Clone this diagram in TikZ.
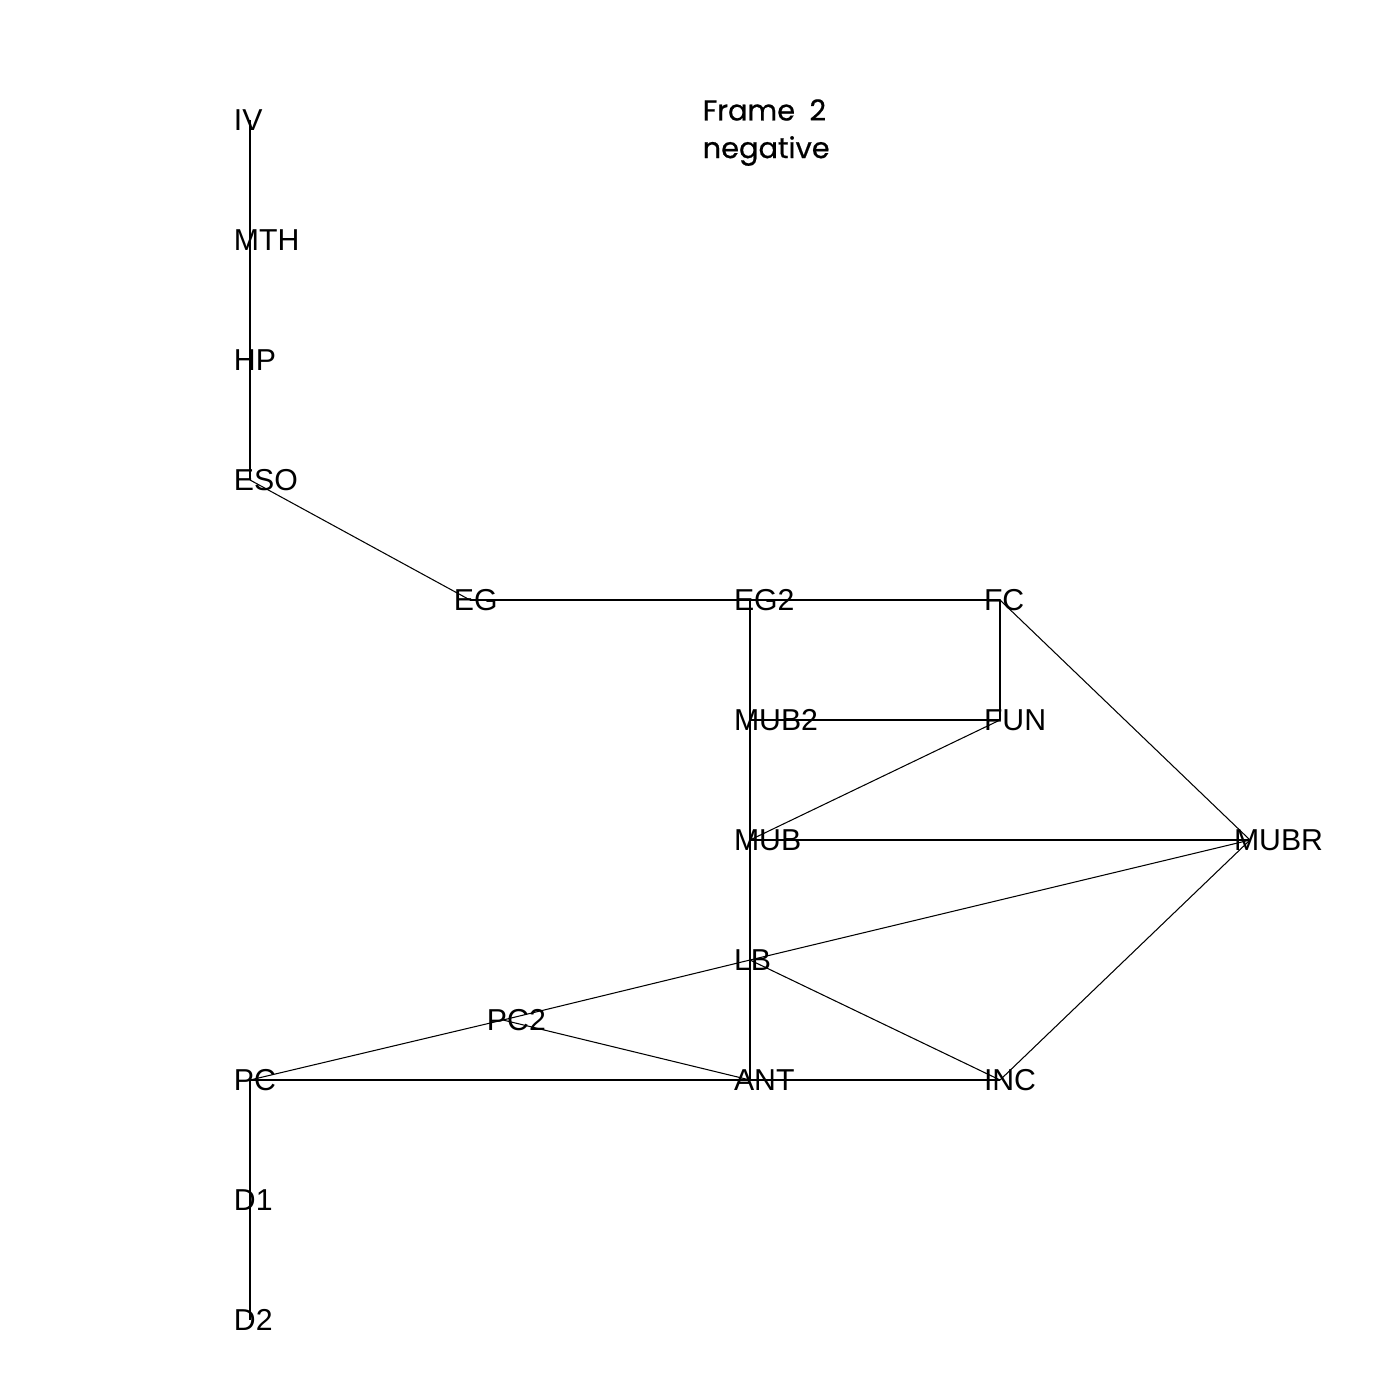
\documentclass[tikz,border=0pt]{standalone}
\usepackage{fontspec}
\setmainfont{Liberation Sans}
\newfontfamily\titlefont[FakeBold=0.6]{Poppins}
\begin{document}
\begin{tikzpicture}[x=0.01cm,y=-0.01cm,
  lab/.style={anchor=west,inner sep=0pt,font=\fontsize{8.6pt}{10pt}\selectfont},
  ttl/.style={anchor=west,inner sep=0pt,font=\titlefont\fontsize{8.2pt}{10pt}\selectfont},
  edge/.style={draw=black,line width=0.3pt}]
\useasboundingbox[fill=white] (0,0) rectangle (1400,1400);
% points
\foreach \n/\x/\y in {IV/250/120,MTH/250/240,HP/250/360,ESO/250/480,EG/470/600,EG2/750/600,FC/1000/600,
  MUB2/750/720,FUN/1000/720,MUB/750/840,MUBR/1250/840,LB/750/960,PC2/503/1020,PC/250/1080,ANT/750/1080,
  INC/1000/1080,D1/250/1200,D2/250/1320}{
  \coordinate (\n) at (\x,\y);
  \node[lab] (\n t) at ([xshift=-0.167cm]\n) {\n};
}
% edges
\draw[edge] (IV) -- (MTH) -- (HP) -- (ESO);
\draw[edge] (ESO) -- (EG);
\draw[edge] (EG) -- (EG2) -- (FC);
\draw[edge] (EG2) -- (MUB2) -- (MUB) -- (LB) -- (ANT);
\draw[edge] (FC) -- (FUN);
\draw[edge] (MUB2) -- (FUN);
\draw[edge] (FUN) -- (MUB);
\draw[edge] (MUB) -- (MUBR);
\draw[edge] (FC) -- (MUBR);
\draw[edge] (PC) -- (PC2) -- (LB) -- (MUBR);
\draw[edge] (PC2) -- (ANT);
\draw[edge] (LB) -- (INC);
\draw[edge] (INC) -- (MUBR);
\draw[edge] (PC) -- (ANT) -- (INC);
\draw[edge] (PC) -- (D1) -- (D2);
% title
\node[ttl] (title1) at (702,110) {Frame\hspace{0.5em}2};
\node[ttl] (title2) at (702,151) {negative};
\end{tikzpicture}
\end{document}
